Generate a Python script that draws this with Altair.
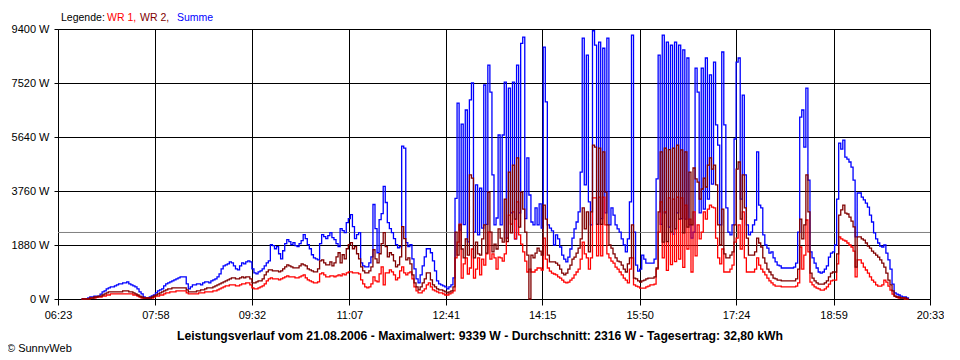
import altair as alt
import pandas as pd

# ---------------- data ----------------
start_time = "06:46"
step_min = 2

summe = [
    0,0,0,35,70,70,100,100,100,170,
    245,280,350,385,420,420,455,490,525,525,
    560,560,595,525,490,455,420,350,245,175,
    70,35,35,70,105,140,210,280,315,350,
    455,525,560,595,630,665,700,735,770,770,
    770,525,350,420,490,490,525,525,490,560,
    595,595,560,630,665,700,770,875,1050,1155,
    1190,1225,1295,1260,1155,1050,1015,1155,1260,1225,
    1295,1330,1295,1050,910,875,945,980,1050,1155,
    1260,1330,1890,1855,1750,1820,1575,1400,1680,1925,
    2065,1995,1890,1960,1855,1820,1925,2030,2240,2100,
    1890,1750,1540,1435,1400,1365,1925,2240,2170,2100,
    2205,2310,2135,2065,1925,1820,2450,2380,2310,2660,
    2800,2940,2520,2100,2240,2310,1260,1155,1120,1120,
    1260,1470,3290,2450,1610,2765,2975,3920,3360,2660,
    2450,2310,2100,1890,1785,1820,5320,5250,1960,1820,
    1890,1400,1050,700,560,840,1155,1470,1750,1750,
    1610,1330,980,630,525,490,455,420,350,420,
    490,735,3500,6820,2400,6090,2590,6580,1990,6930,
    7520,2330,3970,2230,3860,2470,7450,2600,8140,7200,
    4320,2580,2820,5710,2580,5710,7550,2120,7340,3000,
    7550,2090,8140,3000,8900,9120,2800,4910,3620,2680,
    2580,3170,2580,3310,2470,8770,6860,2580,2470,2370,
    1880,2230,2090,1810,1530,1390,1290,1460,1740,2120,
    2440,2680,3030,4420,9080,3970,8490,3380,2580,9339,
    8840,2600,8940,2800,8730,3000,9080,2580,3170,2920,
    2580,2440,2330,2090,1880,1640,2090,3380,9190,2330,
    1180,970,1040,1530,1390,1250,1250,1250,1250,1390,
    4180,8490,2600,9190,3000,8940,2500,8840,2260,8940,
    3000,8840,2800,8670,2780,8390,2580,2120,2330,8040,
    7200,3000,8040,3130,8390,3480,7800,4000,8250,6060,
    5360,2580,8600,6060,3170,2330,2230,2580,5570,8250,
    8390,3480,7100,4320,2580,2230,2330,2580,2750,5120,
    3270,3170,2230,1880,1770,1600,1640,1430,1290,1180,
    1150,1080,1080,1080,1080,1080,1080,1110,1250,2330,
    6330,6580,5290,7340,4140,1640,1430,1250,1080,940,
    900,940,1040,1150,1460,1600,1640,1880,3480,5430,
    5220,5530,4940,4870,4770,4590,4140,2160,3690,3690,
    3550,3450,3340,3200,2920,2680,2300,2090,1950,1840,
    1810,1880,1600,1360,1040,520,210,170,140,100,
    70,70,35,0,
]

wr2 = [
    0,0,0,0,35,35,70,70,100,100,
    140,175,210,245,245,245,245,245,245,245,
    280,280,280,245,245,210,175,140,100,70,
    35,35,35,35,70,105,140,175,210,245,
    280,315,350,350,385,385,385,385,385,385,
    385,315,245,245,245,245,280,280,315,315,
    350,385,385,385,420,455,490,525,560,595,
    630,665,700,735,735,700,700,735,770,735,
    770,770,700,560,560,595,630,630,700,840,
    945,1015,1015,980,980,980,945,980,1050,1120,
    1190,1155,1120,1085,1085,1085,1155,1225,1190,1155,
    1050,1015,980,945,945,1050,1330,1365,1260,1190,
    1190,1295,1155,1260,1470,1610,1260,1540,1400,1750,
    1890,1960,1750,1820,1575,1400,1120,980,910,910,
    980,1120,1715,1400,1260,1575,1925,2310,1820,1470,
    1610,1540,1330,1120,1190,1470,2520,2100,1365,1435,
    1225,840,560,420,315,420,560,700,910,910,
    665,490,420,350,315,315,280,245,210,245,
    280,420,2330,1530,2580,1740,1430,2090,1530,4320,
    4210,1430,1980,1570,1530,2090,2580,1600,3720,2330,
    1640,1910,1740,2440,2120,1980,3480,2000,4420,2300,
    4660,2780,4910,2500,3720,3130,2330,1530,0,1530,
    1430,1600,1770,1670,1530,3270,2780,1530,1290,1290,
    1290,1250,1180,1040,900,840,900,1040,1180,1390,
    1460,1600,1770,2090,3170,2440,3030,1640,3030,5360,
    5290,2600,5250,2600,5120,3720,2580,1880,1770,1570,
    1430,1320,1290,1180,1040,940,1220,1430,2580,730,
    700,630,590,630,660,700,730,730,730,770,
    1080,3030,5120,1980,5250,2000,5200,2330,5250,2440,
    5360,2780,5190,2300,5120,2500,4420,2580,4560,4180,
    4070,3480,3830,4210,3900,4660,4910,4520,4660,3970,
    2580,1880,3130,1570,1430,1430,1530,1640,2580,4520,
    4770,2780,4320,3170,2120,1530,1530,1530,1640,2120,
    1950,1810,1430,1250,1040,940,840,730,700,660,
    660,630,630,630,630,630,630,630,700,1040,
    2780,2090,2580,4320,3030,900,730,630,560,520,
    520,520,560,630,770,900,940,940,1570,2920,
    3100,3270,2990,2960,2850,2710,2510,1110,2160,2160,
    2090,2050,1950,1840,1770,1670,1600,1530,1460,1360,
    1250,1110,900,660,490,280,100,70,70,35,
    35,35,0,0,
]

wr1 = [
    0,0,0,0,35,35,35,70,70,70,
    100,100,140,140,175,175,175,175,175,175,
    175,175,175,175,175,140,140,100,70,35,
    35,35,35,35,35,70,100,100,140,140,
    175,210,210,245,245,245,280,280,280,280,
    280,210,175,175,175,175,175,210,210,210,
    245,245,245,245,280,280,315,350,385,420,
    455,455,490,490,490,455,455,490,525,525,
    560,560,490,385,350,350,385,420,455,525,
    630,700,735,700,700,700,665,700,735,770,
    805,770,770,770,735,735,770,805,840,735,
    665,630,595,560,560,595,875,910,840,770,
    770,805,805,770,805,840,805,875,840,910,
    945,945,910,910,910,875,665,525,420,385,
    420,525,770,630,595,875,1120,490,910,910,
    1015,945,840,665,735,980,1120,910,840,910,
    945,700,420,280,210,210,280,350,490,560,
    420,315,280,245,210,210,175,140,140,175,
    210,280,1430,1980,2610,730,1220,1430,870,1080,
    1740,730,1040,1430,840,1390,1180,1570,2330,1390,
    1570,1430,1040,1460,1430,1320,1570,2120,2920,2610,
    3030,2090,3380,2230,1910,1640,1320,940,1040,940,
    940,1010,1080,1080,1010,2120,1390,1080,970,900,
    870,840,770,730,660,590,560,590,660,730,
    840,940,1040,1390,1980,1570,1430,1040,1430,3520,
    3520,1500,3550,1500,3550,2580,1570,1430,1320,1250,
    1110,1040,940,840,730,660,560,1040,1430,490,
    450,420,380,380,380,420,450,490,490,520,
    1040,2330,3380,1430,3030,1000,3520,1200,3480,1300,
    3550,1390,3520,1100,3270,1740,2780,940,3030,1500,
    2580,2090,2330,3030,2780,3130,3270,3200,3170,2120,
    1430,1220,1740,940,940,940,1040,1180,1980,2120,
    2580,1740,3030,1430,940,940,940,940,1040,1430,
    1180,1040,940,840,730,630,560,490,450,450,
    450,420,420,420,420,420,420,420,450,560,
    1810,1040,1530,2750,1640,590,490,420,380,350,
    310,310,350,420,520,630,660,660,1220,2160,
    2090,2050,2020,1950,1880,1810,1670,770,1360,1360,
    1250,1110,1010,900,770,660,590,490,450,450,
    490,660,590,450,310,170,100,70,35,35,
    35,0,0,0,
]

series_names = ["WR 1", "WR 2", "Summe"]
series_colors = ["#ff0000", "#800000", "#0000ff"]
y_ticks = [0, 1880, 3760, 5640, 7520, 9400]
x_tick_labels = ["06:23", "07:58", "09:32", "11:07", "12:41",
                 "14:15", "15:50", "17:24", "18:59", "20:33"]
average_w = 2316
legend_parts = ["Legende:", "WR 1,", "WR 2,", "Summe"]
footer_text = ("Leistungsverlauf vom 21.08.2006 - Maximalwert: 9339 W - "
               "Durchschnitt: 2316 W - Tagesertrag: 32,80 kWh")
copyright_text = "\u00a9 SunnyWeb"

# ---------------- build ----------------
def hm(s):
    h, m = s.split(":")
    return int(h) * 60 + int(m)

t0 = hm(start_time)
rows = []
for name, vals in zip(series_names, [wr1, wr2, summe]):
    for i, v in enumerate(vals):
        rows.append({"t": t0 + i * step_min, "w": v, "serie": name})
df = pd.DataFrame(rows)

x_tick_vals = [hm(s) for s in x_tick_labels]
label_expr = ("[" + ",".join("'%s'" % s for s in x_tick_labels) + "][indexof(["
              + ",".join(str(v) for v in x_tick_vals) + "], datum.value)]")

FONT = "Liberation Sans"

x_enc = alt.X("t:Q",
              scale=alt.Scale(domain=[x_tick_vals[0], x_tick_vals[-1]], nice=False, zero=False),
              axis=alt.Axis(values=x_tick_vals, labelExpr=label_expr, title=None,
                            grid=True, gridColor="#000000", gridOpacity=1, gridWidth=1,
                            domainColor="#000000", tickColor="#000000", tickSize=6,
                            labelFont=FONT, labelFontSize=11, labelColor="#000000",
                            labelPadding=4, labelFlush=False, labelOverlap=False))
y_enc = alt.Y("w:Q",
              scale=alt.Scale(domain=[0, 9400], nice=False, zero=True),
              axis=alt.Axis(values=y_ticks, labelExpr="datum.value + ' W'", title=None,
                            grid=True, gridColor="#000000", gridOpacity=1, gridWidth=1,
                            domainColor="#000000", tickColor="#000000", tickSize=4,
                            labelFont=FONT, labelFontSize=11, labelColor="#000000",
                            labelPadding=5, labelOverlap=False))

color_map = dict(zip(series_names, series_colors))

avg_rule = alt.Chart(pd.DataFrame({"w": [average_w]})).mark_rule(
    color="#808080", strokeWidth=1).encode(y=y_enc)

line_layers = []
for name in ["Summe", "WR 1", "WR 2"]:
    line_layers.append(
        alt.Chart(df).transform_filter(alt.datum.serie == name)
        .mark_line(interpolate="step-after", strokeWidth=1.3, color=color_map[name])
        .encode(x=x_enc, y=y_enc)
    )

one = pd.DataFrame({"a": [0]})

def text_layer(txt, x, y, color="#000000", bold=False, align="left", size=11):
    return alt.Chart(one).mark_text(
        align=align, baseline="alphabetic", font=FONT, fontSize=size,
        fontWeight="bold" if bold else "normal", color=color
    ).encode(x=alt.value(x), y=alt.value(y), text=alt.value(txt))

legend_x = [3, 49, 82, 119]
legend_colors = ["#000000"] + series_colors
texts = [text_layer(t, x, -8, c, size=10.5)
         for t, x, c in zip(legend_parts, legend_x, legend_colors)]
texts.append(text_layer(footer_text, 422, 311, bold=True, align="center", size=12.2))
texts.append(text_layer(copyright_text, -51, 323))

chart = alt.layer(avg_rule, *line_layers, *texts).properties(
    width=872, height=270,
    padding={"left": 50, "top": 21, "right": 14, "bottom": 54},
    autosize=alt.AutoSizeParams(type="none"),
    background="#ffffff",
).configure_view(stroke=None)

chart.save("out.html", embed_options={"renderer": "svg", "actions": False})
